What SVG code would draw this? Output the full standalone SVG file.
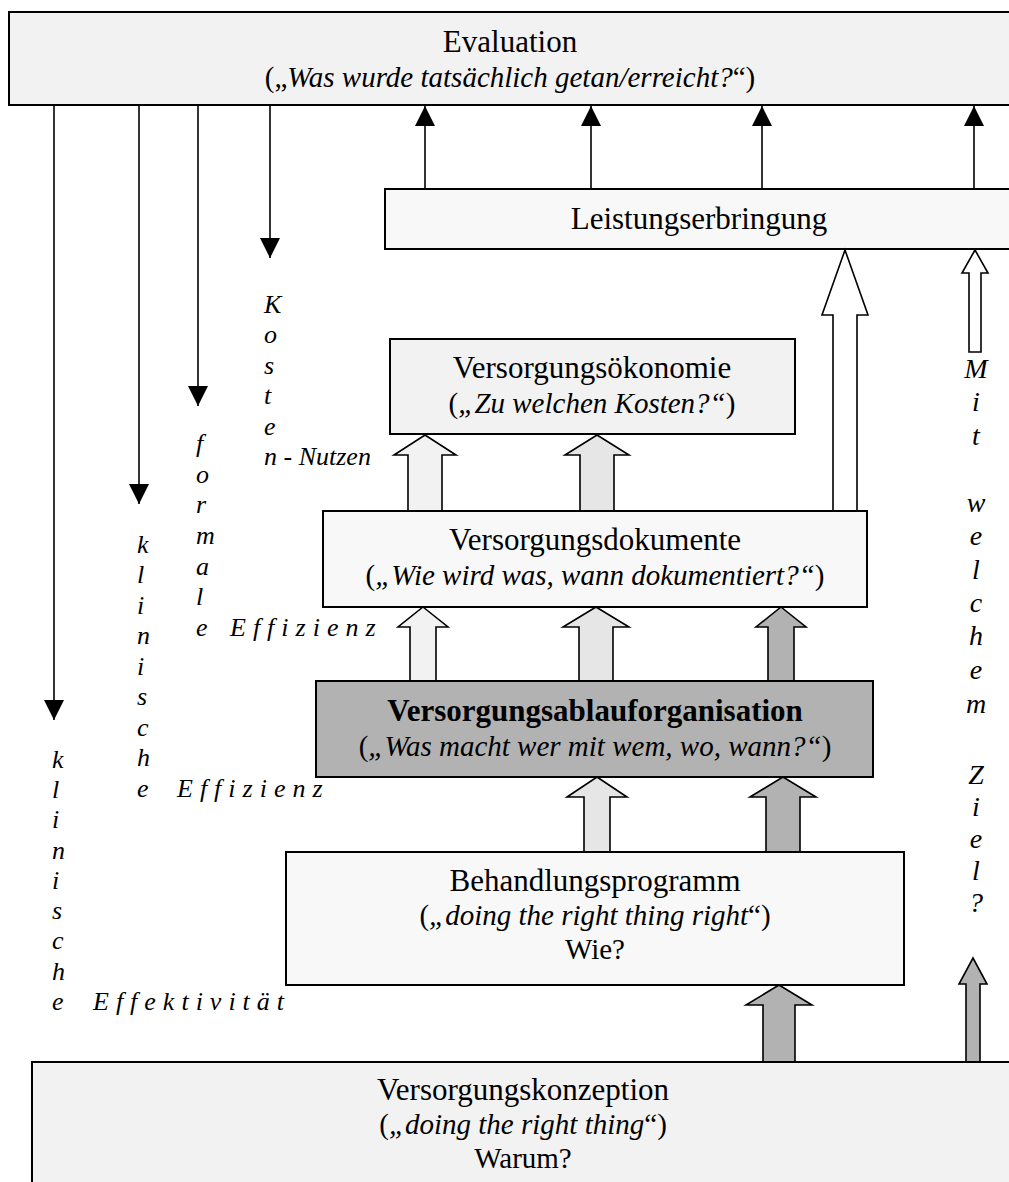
<svg xmlns="http://www.w3.org/2000/svg" width="1009" height="1182" viewBox="0 0 1009 1182">
<defs>
<style>
.box{stroke:#000;stroke-width:2}
.l1{fill:#f2f2f2}.l0{fill:#f8f8f8}.dk{fill:#b2b2b2}
.t{font-family:"Liberation Serif","Times New Roman",serif;font-size:29px;fill:#000;text-anchor:middle}
.h{font-size:31px}
.i{font-style:italic}
.b{font-weight:bold}
.v{font-family:"Liberation Serif","Times New Roman",serif;font-size:26px;font-style:italic;fill:#000}
.m{font-size:28px;text-anchor:middle}
.ls{letter-spacing:7px}
.ln{stroke:#000;stroke-width:1.6;fill:none}
.ba{stroke:#000;stroke-width:1.6}
.fa{fill:#f2f2f2}.fb{fill:#e6e6e6}.fc{fill:#b2b2b2}.fw{fill:#fff}
</style>
<marker id="ah" viewBox="0 0 20 20" refX="20" refY="10" markerWidth="20" markerHeight="20" markerUnits="userSpaceOnUse" orient="auto">
<path d="M0,0 L20,10 L0,20 Z" fill="#000"/>
</marker>
</defs>
<rect width="1009" height="1182" fill="#fff"/>

<g id="evaluation">
<rect class="box l1" x="9" y="12" width="1010" height="93"/>
<text class="t h" x="510" y="52">Evaluation</text>
<text class="t" x="510" y="87">(„<tspan class="i">Was wurde tatsächlich getan/erreicht?</tspan>“)</text>
</g>

<g id="leistungserbringung">
<rect class="box l0" x="385" y="189" width="634" height="60"/>
<text class="t h" x="699" y="229">Leistungserbringung</text>
</g>

<g id="connectors">
<line class="ln" x1="425" y1="189" x2="425" y2="106" marker-end="url(#ah)"/>
<line class="ln" x1="591" y1="189" x2="591" y2="106" marker-end="url(#ah)"/>
<line class="ln" x1="762" y1="189" x2="762" y2="106" marker-end="url(#ah)"/>
<line class="ln" x1="974" y1="189" x2="974" y2="106" marker-end="url(#ah)"/>
<line class="ln" x1="54" y1="105" x2="54" y2="720" marker-end="url(#ah)"/>
<line class="ln" x1="139" y1="105" x2="139" y2="504" marker-end="url(#ah)"/>
<line class="ln" x1="198" y1="105" x2="198" y2="406" marker-end="url(#ah)"/>
<line class="ln" x1="270" y1="105" x2="270" y2="258" marker-end="url(#ah)"/>
<path class="ba fa" d="M425,435 L456,455 L442,455 L442,511 L408,511 L408,455 L394,455 Z"/>
<path class="ba fb" d="M597,435 L629,455 L614,455 L614,511 L580,511 L580,455 L565,455 Z"/>
<path class="ba fa" d="M423,607 L448,627 L436,627 L436,681 L410,681 L410,627 L398,627 Z"/>
<path class="ba fb" d="M596,607 L629,627 L613,627 L613,681 L579,681 L579,627 L563,627 Z"/>
<path class="ba fc" d="M781,607 L806,627 L794,627 L794,681 L768,681 L768,627 L756,627 Z"/>
<path class="ba fb" d="M597,777 L627,797 L610,797 L610,852 L584,852 L584,797 L567,797 Z"/>
<path class="ba fc" d="M783,777 L816,797 L800,797 L800,852 L766,852 L766,797 L750,797 Z"/>
<path class="ba fc" d="M779,985 L812,1005 L795,1005 L795,1062 L763,1062 L763,1005 L746,1005 Z"/>
<path class="ba fc" d="M973,958 L987,984 L980,984 L980,1062 L966,1062 L966,984 L959,984 Z"/>
<path class="ba fw" d="M845,250 L868,315 L857,315 L857,511 L833,511 L833,315 L822,315 Z"/>
<path class="ba fw" d="M975,250 L988,273 L981,273 L981,352 L969,352 L969,273 L962,273 Z"/>
</g>

<g id="versorgungsoekonomie">
<rect class="box l1" x="390" y="339" width="405" height="95"/>
<text class="t h" x="592" y="378">Versorgungsökonomie</text>
<text class="t" x="592" y="413">(<tspan class="i">„Zu welchen Kosten?“</tspan>)</text>
</g>

<g id="versorgungsdokumente">
<rect class="box l0" x="323" y="511" width="544" height="96"/>
<text class="t h" x="595" y="550">Versorgungsdokumente</text>
<text class="t" x="595" y="585">(<tspan class="i">„Wie wird was, wann dokumentiert?“</tspan>)</text>
</g>

<g id="versorgungsablauforganisation">
<rect class="box dk" x="316" y="681" width="557" height="96"/>
<text class="t h b" x="595" y="721">Versorgungsablauforganisation</text>
<text class="t" x="595" y="756">(<tspan class="i">„Was macht wer mit wem, wo, wann?“</tspan>)</text>
</g>

<g id="behandlungsprogramm">
<rect class="box l0" x="286" y="852" width="618" height="133"/>
<text class="t h" x="595" y="891">Behandlungsprogramm</text>
<text class="t" x="595" y="925">(<tspan class="i">„doing the right thing right</tspan>“)</text>
<text class="t" x="595" y="959">Wie?</text>
</g>

<g id="versorgungskonzeption">
<rect class="box l1" x="32" y="1062" width="990" height="140"/>
<text class="t h" x="523" y="1100">Versorgungskonzeption</text>
<text class="t" x="523" y="1134">(<tspan class="i">„doing the right thing</tspan>“)</text>
<text class="t" x="523" y="1168">Warum?</text>
</g>

<g id="labels">
<text class="v"><tspan x="264" y="313">K</tspan><tspan x="264" y="343">o</tspan><tspan x="264" y="374">s</tspan><tspan x="264" y="404">t</tspan><tspan x="264" y="435">e</tspan><tspan x="264" y="465">n - Nutzen</tspan></text>
<text class="v"><tspan x="196" y="452">f</tspan><tspan x="196" y="483">o</tspan><tspan x="196" y="513">r</tspan><tspan x="196" y="544">m</tspan><tspan x="196" y="575">a</tspan><tspan x="196" y="605">l</tspan><tspan x="196" y="636">e</tspan></text>
<text class="v ls" x="230" y="636">Effizienz</text>
<text class="v"><tspan x="137" y="553">k</tspan><tspan x="137" y="583">l</tspan><tspan x="137" y="614">i</tspan><tspan x="137" y="644">n</tspan><tspan x="137" y="675">i</tspan><tspan x="137" y="705">s</tspan><tspan x="137" y="736">c</tspan><tspan x="137" y="766">h</tspan><tspan x="137" y="797">e</tspan></text>
<text class="v ls" x="177" y="797">Effizienz</text>
<text class="v"><tspan x="52" y="768">k</tspan><tspan x="52" y="798">l</tspan><tspan x="52" y="828">i</tspan><tspan x="52" y="859">n</tspan><tspan x="52" y="889">i</tspan><tspan x="52" y="919">s</tspan><tspan x="52" y="949">c</tspan><tspan x="52" y="980">h</tspan><tspan x="52" y="1010">e</tspan></text>
<text class="v ls" x="93" y="1010">Effektivität</text>
<text class="v m"><tspan x="976" y="378">M</tspan><tspan x="976" y="411">i</tspan><tspan x="976" y="445">t</tspan><tspan x="976" y="512">w</tspan><tspan x="976" y="545">e</tspan><tspan x="976" y="579">l</tspan><tspan x="976" y="612">c</tspan><tspan x="976" y="645">h</tspan><tspan x="976" y="679">e</tspan><tspan x="976" y="713">m</tspan><tspan x="976" y="784">Z</tspan><tspan x="976" y="816">i</tspan><tspan x="976" y="848">e</tspan><tspan x="976" y="880">l</tspan><tspan x="976" y="912">?</tspan></text>
</g>
</svg>
